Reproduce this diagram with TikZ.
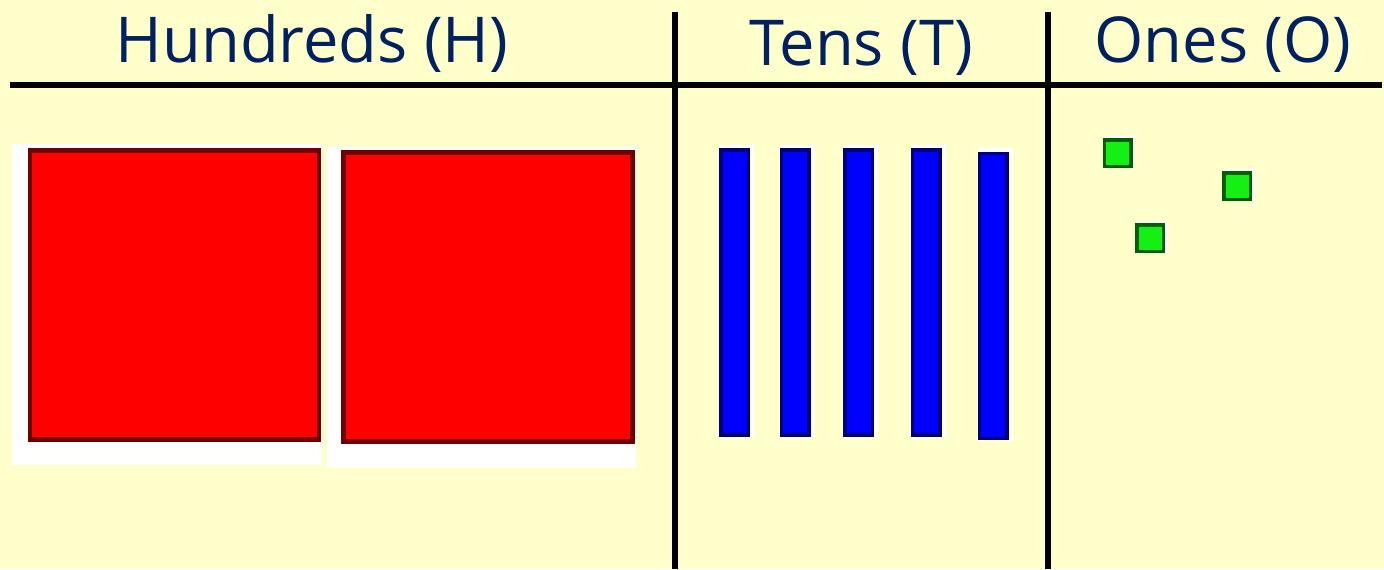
\documentclass[tikz,border=0pt]{standalone}
\usepackage{fontspec}
\setmainfont{Open Sans}
\usepackage{xcolor}
\usepackage{tikz}
\usetikzlibrary{positioning}

\definecolor{chartbg}{RGB}{255,255,204}
\definecolor{headnavy}{RGB}{0,32,96}
\definecolor{flatred}{RGB}{255,0,0}
\definecolor{flatedge}{RGB}{112,0,0}
\definecolor{rodblue}{RGB}{0,0,255}
\definecolor{rodedge}{RGB}{0,0,120}
\definecolor{unitgreen}{RGB}{20,240,20}
\definecolor{unitedge}{RGB}{0,95,0}

\begin{document}
\begin{tikzpicture}[
  x=0.02cm, y=-0.02cm,
  header/.style={anchor=base, text=headnavy, inner sep=0pt,
    font=\fontsize{36}{40}\selectfont},
  rule/.style={line width=0.11cm, black},
  halo/.style={rectangle, fill=white, draw=none, inner sep=0pt},
  flat/.style={rectangle, fill=flatred, draw=flatedge, line width=0.09cm,
    minimum width=5.78cm, minimum height=5.78cm, inner sep=0pt},
  rod/.style={rectangle, fill=rodblue, draw=rodedge, line width=0.07cm,
    minimum width=0.55cm, minimum height=5.71cm, inner sep=0pt},
  unit/.style={rectangle, fill=unitgreen, draw=unitedge, line width=0.07cm,
    minimum width=0.53cm, minimum height=0.53cm, inner sep=0pt}
]
  \fill[chartbg] (0,0) rectangle (1384,569);
  \useasboundingbox (0,0) rectangle (1384,569);

  % column headings
  \node[header] (hund) at (312,62) {Hundreds (H)};
  \node[header] (tens) at (861,65) {Tens (T)};
  \node[header] (ones) at (1223,62) {Ones (O)};

  % table rules
  \draw[rule] (10,85) -- (1382,85);
  \draw[rule] (675,12) -- (675,569);
  \draw[rule] (1048,12) -- (1048,569);

  % hundreds
  \node[halo, minimum width=6.2cm,  minimum height=6.42cm] (hh1) at (167,304.5) {};
  \node[halo, minimum width=6.18cm, minimum height=6.42cm] (hh2) at (481.5,307.5) {};
  \node[flat] (h1) at (174.5,295) {};
  \node[flat] (h2) at (488,297) {};

  % tens
  \node[halo, minimum width=0.68cm, minimum height=5.86cm] (th1) at (737,291) {};
  \node[halo, minimum width=0.68cm, minimum height=5.86cm] (th2) at (797.5,291) {};
  \node[halo, minimum width=0.68cm, minimum height=5.86cm] (th3) at (861,291) {};
  \node[halo, minimum width=0.68cm, minimum height=5.86cm] (th4) at (928.5,291) {};
  \node[halo, minimum width=0.68cm, minimum height=5.86cm] (th5) at (995.5,294.5) {};
  \node[rod] (t1) at (734.5,292.5) {};
  \node[rod] (t2) at (795,292.5) {};
  \node[rod] (t3) at (858.5,292.5) {};
  \node[rod] (t4) at (926,292.5) {};
  \node[rod] (t5) at (993,296) {};

  % ones
  \node[halo, minimum width=0.64cm, minimum height=0.64cm] (oh1) at (1119,152) {};
  \node[halo, minimum width=0.64cm, minimum height=0.64cm] (oh2) at (1239,185) {};
  \node[halo, minimum width=0.64cm, minimum height=0.64cm] (oh3) at (1152,237) {};
  \node[unit] (o1) at (1117.5,153) {};
  \node[unit] (o2) at (1237,186) {};
  \node[unit] (o3) at (1150,238) {};
\end{tikzpicture}
\end{document}
